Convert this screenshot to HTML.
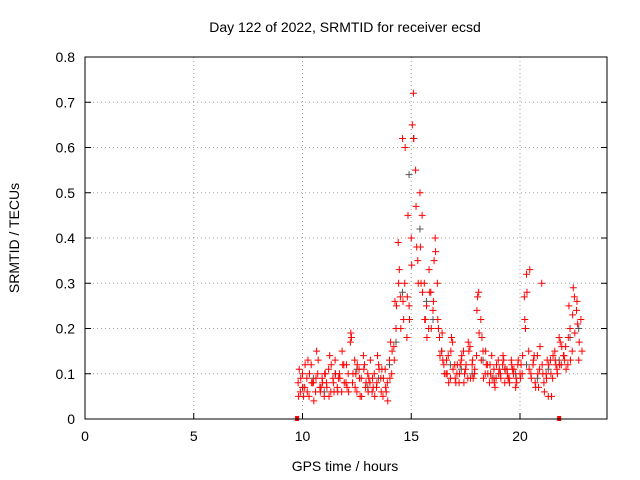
<!DOCTYPE html>
<html><head><meta charset="utf-8"><style>
body{margin:0;background:#fff;}
svg{display:block;font-family:"Liberation Sans",sans-serif;}
</style></head><body>
<svg id="chart" width="640" height="480">
<text x="345" y="32" font-size="14" text-anchor="middle">Day 122 of 2022, SRMTID for receiver ecsd</text>
<text x="345" y="471" font-size="14" text-anchor="middle">GPS time / hours</text>
<text transform="translate(19,238) rotate(-90)" font-size="14" text-anchor="middle">SRMTID / TECUs</text>
<g id="grid"></g><g id="marks"></g>
<rect x="85" y="57" width="522" height="362" fill="none" stroke="#000" stroke-width="1"/>
</svg>
<script>
const xTicks=[0,5,10,15,20];
const yTicks=[0,0.1,0.2,0.3,0.4,0.5,0.6,0.7,0.8];
const yTickLabels=["0","0.1","0.2","0.3","0.4","0.5","0.6","0.7","0.8"];
const redTimes=[9.8,9.9,10.0,10.1,10.2,10.3,10.4,10.5,10.6,10.7,10.8,10.9,11.0,11.1,11.2,11.3,11.4,11.5,11.6,11.7,11.8,11.9,12.0,12.1,12.2,12.3,12.4,12.5,12.6,12.7,12.8,12.9,13.0,13.1,13.2,13.3,13.4,13.5,13.6,13.7,13.8,13.9,14.0,14.1,14.2,14.3,14.4,14.5,14.6,14.7,14.8,14.9,15.0,15.1,15.2,15.3,15.4,15.5,15.6,15.7,15.8,15.9,16.0,16.1,16.2,16.3,16.4,16.5,16.6,16.7,16.8,16.9,17.0,17.1,17.2,17.3,17.4,17.5,17.6,17.7,17.8,17.9,18.0,18.1,18.2,18.3,18.4,18.5,18.6,18.7,18.8,18.9,19.0,19.1,19.2,19.3,19.4,19.5,19.6,19.7,19.8,19.9,20.0,20.1,20.2,20.3,20.4,20.5,20.6,20.7,20.8,20.9,21.0,21.1,21.2,21.3,21.4,21.5,21.6,21.7,21.8,21.9,22.0,22.1,22.2,22.3,22.4,22.5,22.6,22.7,22.8];
const redValues=[0.08,0.06,0.1,0.07,0.09,0.05,0.12,0.08,0.06,0.1,0.07,0.09,0.05,0.08,0.11,0.06,0.09,0.13,0.07,0.1,0.06,0.12,0.08,0.1,0.17,0.08,0.13,0.06,0.11,0.09,0.14,0.07,0.1,0.08,0.06,0.1,0.07,0.12,0.09,0.05,0.11,0.08,0.13,0.1,0.16,0.2,0.39,0.27,0.62,0.3,0.18,0.25,0.4,0.72,0.55,0.35,0.5,0.45,0.3,0.25,0.2,0.28,0.24,0.4,0.3,0.18,0.15,0.12,0.1,0.14,0.09,0.17,0.12,0.1,0.08,0.13,0.15,0.11,0.09,0.16,0.12,0.1,0.14,0.28,0.22,0.15,0.1,0.12,0.08,0.14,0.11,0.09,0.13,0.1,0.12,0.08,0.11,0.09,0.13,0.1,0.07,0.12,0.1,0.1,0.27,0.32,0.15,0.1,0.12,0.08,0.14,0.11,0.3,0.08,0.1,0.05,0.13,0.09,0.15,0.11,0.18,0.12,0.14,0.16,0.12,0.2,0.15,0.27,0.24,0.13,0.22,0.09,0.18];
const redBTimes=[9.85,10.05,10.25,10.45,10.65,10.85,11.05,11.25,11.45,11.65,11.85,12.05,12.25,12.45,12.65,12.85,13.05,13.25,13.45,13.65,13.85,14.05,14.25,14.45,14.65,14.85,15.05,15.25,15.45,15.65,15.85,16.05,16.25,16.45,16.65,16.85,17.05,17.25,17.45,17.65,17.85,18.05,18.25,18.45,18.65,18.85,19.05,19.25,19.45,19.65,19.85,20.05,20.25,20.45,20.65,20.85,21.05,21.25,21.45,21.65,21.85,22.05,22.25,22.45,22.65,22.85];
const redBValues=[0.11,0.05,0.13,0.08,0.15,0.07,0.1,0.14,0.06,0.09,0.12,0.07,0.18,0.1,0.05,0.12,0.09,0.07,0.14,0.11,0.06,0.17,0.26,0.33,0.22,0.45,0.65,0.38,0.3,0.22,0.28,0.35,0.2,0.13,0.1,0.18,0.08,0.12,0.1,0.15,0.09,0.27,0.18,0.12,0.1,0.07,0.11,0.13,0.09,0.11,0.08,0.12,0.2,0.33,0.14,0.07,0.1,0.13,0.05,0.12,0.17,0.13,0.25,0.29,0.21,0.15];
const redCTimes=[9.82,9.92,10.02,10.12,10.22,10.32,10.42,10.52,10.62,10.72,10.82,10.92,11.02,11.12,11.22,11.32,11.42,11.52,11.62,11.72,11.82,11.92,12.02,12.12,12.22,12.32,12.42,12.52,12.62,12.72,12.82,12.92,13.02,13.12,13.22,13.32,13.42,13.52,13.62,13.72,13.82,13.92,14.02,14.12,14.22,14.32,14.42,14.52,14.62,14.72,14.82,14.92,15.02,15.12,15.22,15.32,15.42,15.52,15.62,15.72,15.82,15.92,16.02,16.12,16.22,16.32,16.42,16.52,16.62,16.72,16.82,16.92,17.02,17.12,17.22,17.32,17.42,17.52,17.62,17.72,17.82,17.92,18.02,18.12,18.22,18.32,18.42,18.52,18.62,18.72,18.82,18.92,19.02,19.12,19.22,19.32,19.42,19.52,19.62,19.72,19.82,19.92,20.02,20.12,20.22,20.32,20.42,20.52,20.62,20.72,20.82,20.92,21.02,21.12,21.22,21.32,21.42,21.52,21.62,21.72,21.82,21.92,22.02,22.12,22.22,22.32,22.42,22.52,22.62,22.72];
const redCValues=[0.05,0.09,0.07,0.12,0.06,0.1,0.08,0.04,0.09,0.13,0.06,0.08,0.1,0.07,0.05,0.12,0.08,0.1,0.06,0.09,0.15,0.08,0.12,0.06,0.19,0.1,0.07,0.12,0.09,0.05,0.11,0.08,0.06,0.13,0.09,0.05,0.08,0.11,0.06,0.09,0.07,0.04,0.09,0.15,0.13,0.25,0.3,0.2,0.26,0.6,0.27,0.22,0.34,0.62,0.47,0.3,0.38,0.28,0.22,0.18,0.33,0.2,0.26,0.37,0.22,0.14,0.19,0.1,0.13,0.08,0.15,0.11,0.09,0.12,0.1,0.14,0.08,0.12,0.17,0.09,0.13,0.11,0.24,0.19,0.13,0.09,0.15,0.1,0.12,0.09,0.08,0.12,0.1,0.09,0.14,0.11,0.1,0.08,0.12,0.11,0.09,0.13,0.09,0.14,0.22,0.28,0.11,0.09,0.13,0.07,0.1,0.16,0.12,0.06,0.09,0.12,0.1,0.14,0.13,0.1,0.12,0.16,0.14,0.11,0.18,0.13,0.23,0.19,0.26,0.17,0.2,0.14];
const greyTimes=[10.0,10.5,11.0,11.5,12.0,12.5,13.0,13.5,14.0,14.3,14.6,14.9,15.1,15.4,15.7,16.0,16.4,16.8,17.3,17.8,18.3,18.8,19.3,19.8,20.3,20.8,21.3,21.8,22.3,22.7];
const greyValues=[0.07,0.09,0.06,0.1,0.08,0.11,0.07,0.09,0.12,0.17,0.28,0.54,0.62,0.42,0.26,0.22,0.15,0.12,0.11,0.1,0.13,0.09,0.11,0.1,0.12,0.09,0.11,0.13,0.18,0.2];
const zeroTimes=[9.75,21.8];
const zeroValues=[0,0];

const X0=85,X1=607,Y0=419,Y1=57;
function xs(v){return X0+(v/24)*(X1-X0);}
function ys(v){return Y0-(v/0.8)*(Y0-Y1);}
const NS="http://www.w3.org/2000/svg";
const grid=document.getElementById('grid'),marks=document.getElementById('marks');
function mk(tag,attrs,parent){const e=document.createElementNS(NS,tag);for(const k in attrs)e.setAttribute(k,attrs[k]);parent.appendChild(e);return e;}
xTicks.forEach(t=>{
  const x=xs(t);
  if(t>0){const l=mk('line',{x1:x,x2:x,y1:Y1,y2:Y0,stroke:'#a0a0a0','stroke-dasharray':'1,3'},grid);
  
  }
  mk('line',{x1:x,x2:x,y1:Y0,y2:Y0-6,stroke:'#000'},grid);
  const tx=mk('text',{x:x,y:Y0+22,'font-size':14,'text-anchor':'middle'},grid);tx.textContent=t;
  
  
});
yTicks.forEach((t,i)=>{
  const y=ys(t);
  if(t>0&&t<0.8){const l=mk('line',{x1:X0,x2:X1,y1:y,y2:y,stroke:'#a0a0a0','stroke-dasharray':'1,3'},grid);
  
  }
  mk('line',{x1:X0,x2:X0+6,y1:y,y2:y,stroke:'#000'},grid);
  mk('line',{x1:X1,x2:X1-6,y1:y,y2:y,stroke:'#000'},grid);
  const tx=mk('text',{x:X0-10,y:y+5,'font-size':14,'text-anchor':'end'},grid);tx.textContent=yTickLabels[i];
  
  
});
function plus(t,v,color,name){
  const x=xs(t),y=ys(v);
  const p=mk('path',{d:`M${x-3.5},${y}h7M${x},${y-3.5}v7`,stroke:color,'stroke-width':1},marks);
  
  
}
greyTimes.forEach((t,i)=>plus(t,greyValues[i],'#555','grey-point'));
redTimes.forEach((t,i)=>plus(t,redValues[i],'#ff0000','red-point'));
redBTimes.forEach((t,i)=>plus(t,redBValues[i],'#ff0000','red-point'));
redCTimes.forEach((t,i)=>plus(t,redCValues[i],'#ff0000','red-point'));
zeroTimes.forEach((t,i)=>{
  const r=mk('rect',{x:xs(t)-2,y:ys(zeroValues[i])-3,width:4,height:5,fill:'#ff0000'},marks);
  
  
});
</script>
</body></html>
